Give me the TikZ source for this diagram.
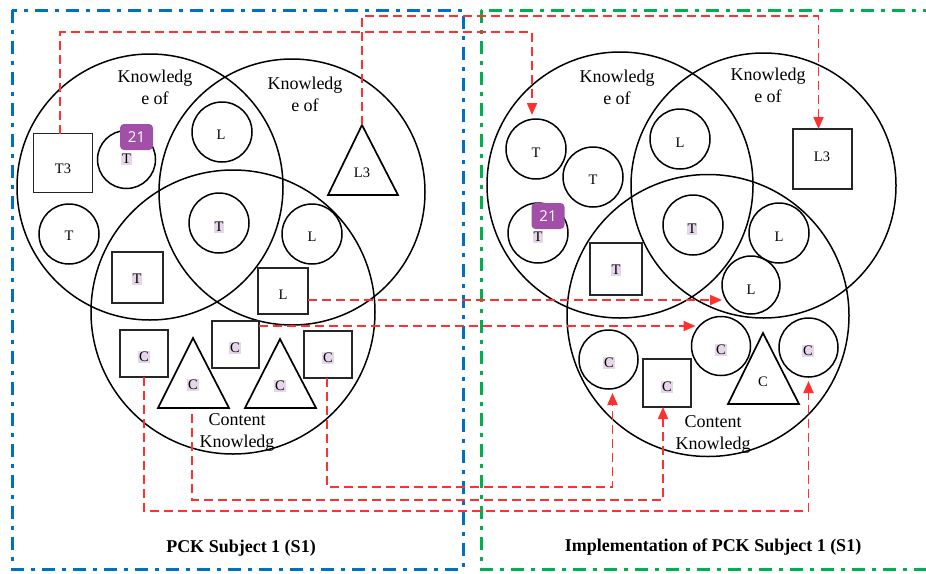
\documentclass[tikz,border=0pt]{standalone}
\usepackage{fontspec}
\setmainfont{Liberation Serif}
\newfontfamily\badgefont{Open Sans}
\usetikzlibrary{arrows.meta}
\definecolor{framblue}{HTML}{0070C0}
\definecolor{framgreen}{HTML}{00B050}
\definecolor{connred}{HTML}{FF3030}
\definecolor{hlpurple}{HTML}{E6D6EA}
\definecolor{badgepurple}{HTML}{A24FA8}
\tikzset{
  bigc/.style={draw=black, line width=1.5pt, circle, inner sep=0pt, outer sep=0pt},
  smc/.style={draw=black, line width=1.5pt, circle, minimum size=60pt, inner sep=0pt, outer sep=0pt},
  sq/.style={draw=black!85, line width=1.9pt, rectangle, inner sep=0pt, outer sep=0pt},
  tri/.style={draw=black, line width=1.7pt, line join=miter},
  lbl/.style={font=\fontsize{14.5}{16}\selectfont, inner sep=0pt},
  hl/.style={font=\fontsize{14.5}{16}\selectfont, fill=hlpurple, inner sep=1pt},
  big/.style={font=\fontsize{18}{22}\selectfont, align=center, inner sep=0pt},
  title/.style={font=\bfseries\fontsize{18}{20}\selectfont, inner sep=0pt},
  badge/.style={fill=badgepurple, text=white, rounded corners=4pt, minimum width=33pt, minimum height=26pt, inner sep=0pt, font=\badgefont\fontsize{15}{15}\selectfont},
  bframe/.style={draw=framblue, line width=3pt, dash pattern=on 13pt off 7pt on 4pt off 7pt},
  gframe/.style={draw=framgreen, line width=3pt, dash pattern=on 13pt off 7pt on 4pt off 7pt},
  conn/.style={draw=connred, line width=1.9pt, dash pattern=on 9pt off 5pt},
  arr/.style={conn, -{Triangle[length=12pt,width=10pt]}}
}
\begin{document}
\begin{tikzpicture}[x=1pt,y=-1pt]
\useasboundingbox (0,0) rectangle (926,573);
\fill[white] (0,0) rectangle (926,573);
% frames
\draw[bframe] (12,10) rectangle (463,569);
\draw[gframe] (481,10) rectangle (940,569);

% ===== LEFT PANEL =====
\node[bigc, minimum size=266pt] (lA) at (150,187) {};
\node[bigc, minimum size=266pt] (lB) at (292,192) {};
\node[bigc, minimum size=284pt] (lC) at (233,312) {};
\node[big] (lAtxt) at (155,87) {Knowledg\\e of};
\node[big] (lBtxt) at (305,94) {Knowledg\\e of};
\node[big] (lCtxt) at (237,432) {Content\\Knowledg};

\node[sq, minimum width=59pt, minimum height=59pt] (lT3) at (63,163) {};
\node[lbl] at (63,169) {T3};
\node[smc, minimum size=58pt] (lT1) at (126.5,159.5) {};
\node[hl] at (126.5,159) {T};
\node[smc] (lT2) at (69,234) {};
\node[lbl] at (69,236) {T};
\node[smc] (lL1) at (222,132) {};
\node[lbl] at (221,135) {L};
\node[smc] (lT4) at (219,223) {};
\node[hl] at (219,227) {T};
\node[smc] (lL2) at (312,234) {};
\node[lbl] at (312,237) {L};
\coordinate (lL3apex) at (362,125);
\draw[tri] (lL3apex) -- (398,195) -- (328,195) -- cycle;
\node[lbl] (lL3) at (362,173) {L3};
\node[sq, minimum width=51pt, minimum height=51pt] (lTsq) at (137.5,277.5) {};
\node[hl] at (137,279) {T};
\node[sq, minimum width=50pt, minimum height=46pt] (lLsq) at (283,291) {};
\node[lbl] at (283,295) {L};
\node[sq, minimum width=48pt, minimum height=47pt] (lCsq1) at (144,353.5) {};
\node[hl] at (144,357) {C};
\coordinate (lTriC1apex) at (193,338);
\draw[tri] (lTriC1apex) -- (229,408) -- (158,408) -- cycle;
\node[hl] (lTriC1) at (193,385) {C};
\node[sq, minimum width=47pt, minimum height=47pt] (lCsq2) at (235.5,344.5) {};
\node[hl] at (235,348) {C};
\coordinate (lTriC2apex) at (280,339);
\draw[tri] (lTriC2apex) -- (316,408) -- (245,408) -- cycle;
\node[hl] (lTriC2) at (280,386) {C};
\node[sq, minimum width=48pt, minimum height=47pt] (lCsq3) at (328,354.5) {};
\node[hl] at (328,358) {C};
\node[badge] (lbadge) at (136.5,137) {21};
\node[title] (ltitle) at (241,548) {PCK Subject 1 (S1)};

% ===== RIGHT PANEL =====
\node[bigc, minimum size=266pt] (rA) at (620,185) {};
\node[bigc, minimum size=265pt] (rB) at (763.5,185.5) {};
\node[bigc, minimum size=282pt] (rC) at (708,315.5) {};
\node[big] (rAtxt) at (617,87) {Knowledg\\e of};
\node[big] (rBtxt) at (768,85) {Knowledg\\e of};
\node[big] (rCtxt) at (713,434) {Content\\Knowledg};

\node[smc] (rT1) at (536,149) {};
\node[lbl] at (536,153) {T};
\node[smc] (rT2) at (593,177) {};
\node[lbl] at (593,180) {T};
\node[smc] (rT3) at (538,233) {};
\node[hl] at (538,237) {T};
\node[smc] (rL1) at (680,139) {};
\node[lbl] at (680,143) {L};
\node[smc] (rT4) at (693,225) {};
\node[hl] at (692,229) {T};
\node[smc] (rL2) at (779,233) {};
\node[lbl] at (779,237) {L};
\node[smc, minimum size=58pt] (rL3c) at (751,285) {};
\node[lbl] at (751,290) {L};
\node[sq, minimum width=59pt, minimum height=60pt] (rL3) at (822.5,159) {};
\node[lbl] at (822,157) {L3};
\node[sq, minimum width=52pt, minimum height=52pt] (rTsq) at (616,269) {};
\node[hl] at (616,270) {T};
\node[smc, minimum size=59pt] (rC1) at (608.5,359.5) {};
\node[hl] at (609,363) {C};
\node[sq, minimum width=48pt, minimum height=48pt] (rCsq) at (667,383) {};
\node[hl] at (667,387) {C};
\node[smc, minimum size=59pt] (rC2) at (721,346) {};
\node[hl] at (721,350) {C};
\coordinate (rTriCapex) at (763,333);
\draw[tri] (rTriCapex) -- (799,404) -- (728,404) -- cycle;
\node[lbl] (rTriC) at (763,382) {C};
\node[smc, minimum size=59pt] (rC4) at (808.5,347.5) {};
\node[hl] at (808,351) {C};
\node[badge] (rbadge) at (548,216) {21};
\node[title] (rtitle) at (713,547) {Implementation of PCK Subject 1 (S1)};

% ===== CONNECTORS =====
\coordinate (s1) at ([xshift=-3pt]lT3.north);
\coordinate (e1) at ([xshift=-4pt,yshift=4pt]rT1.north);
\draw[arr] (s1) -- (s1 |- 0,32) -| (e1);
\coordinate (e2) at ([xshift=-4pt]rL3.north);
\draw[arr] (lL3apex) -- (lL3apex |- 0,16) -| (e2);
\coordinate (s3) at ([yshift=-9pt]lLsq.east);
\draw[arr] (s3) -- (s3 -| rL3c.west);
\coordinate (s4) at ([yshift=18.5pt]lCsq2.east);
\coordinate (e4) at ([xshift=4pt]rC2.west);
\draw[arr] (s4) -- (s4 -| e4);
\draw[arr] (lCsq1.south) -- (lCsq1.south |- 0,511) -| ([yshift=-4pt]rC4.south);
\coordinate (s6) at (192,414);
\draw[arr] (s6) -- (s6 |- 0,500) -| ([xshift=-4pt]rCsq.south);
\coordinate (s7) at ([xshift=-1pt]lCsq3.south);
\draw[arr] (s7) -- (s7 |- 0,487) -| ([xshift=4pt,yshift=-4pt]rC1.south);
\end{tikzpicture}
\end{document}
